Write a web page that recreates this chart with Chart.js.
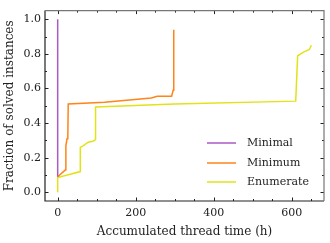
<!DOCTYPE html>
<html>
<head>
<meta charset="utf-8">
<script src="https://cdn.jsdelivr.net/npm/chart.js@4/dist/chart.umd.min.js"></script>
<style>
  html, body { margin: 0; padding: 0; background: #fff; }
  #wrap { width: 330px; height: 243px; }
</style>
</head>
<body>
<div id="wrap"><canvas id="chart" width="330" height="243"></canvas></div>
<script>
// series: accumulated thread time (h) vs fraction of solved instances
const minimalTime = [0, 0];
const minimalFrac = [0.09, 1.0];

const minimumTime = [0, 20, 21, 24, 26, 27, 120, 240, 255, 292, 296, 297, 298];
const minimumFrac = [0.09, 0.13, 0.27, 0.31, 0.32, 0.51, 0.52, 0.545, 0.555, 0.555, 0.59, 0.61, 0.94];

const enumTime = [0, 0, 58, 58, 66, 78, 90, 97, 97, 300, 610, 615, 630, 645, 650];
const enumFrac = [0.0, 0.085, 0.12, 0.26, 0.27, 0.29, 0.295, 0.305, 0.493, 0.51, 0.527, 0.789, 0.81, 0.825, 0.85];

const xTickValues = [0, 200, 400, 600];
const yTickValues = [0.0, 0.2, 0.4, 0.6, 0.8, 1.0];
const xMinorValues = [50, 100, 150, 250, 300, 350, 450, 500, 550, 650];
const yMinorValues = [0.1, 0.3, 0.5, 0.7, 0.9];

const seriesNames = ['Minimal', 'Minimum', 'Enumerate'];
const seriesColors = ['#a95ac4', '#ff8419', '#e2e21a'];

const serif = "'DejaVu Serif', 'Liberation Serif', serif";

function toPoints(xs, ys) {
  return xs.map((x, i) => ({ x, y: ys[i] }));
}

// inward ticks on all four sides + legend inside the plot
const decorations = {
  id: 'decorations',
  afterDraw(chart) {
    const { ctx, chartArea: a, scales: { x, y } } = chart;
    ctx.save();
    ctx.strokeStyle = '#222';
    ctx.lineWidth = 1;
    const major = 3.5, minor = 2;
    const xt = (v, len) => {
      const px = Math.round(x.getPixelForValue(v)) + 0.5;
      ctx.beginPath();
      ctx.moveTo(px, a.bottom); ctx.lineTo(px, a.bottom - len);
      ctx.moveTo(px, a.top); ctx.lineTo(px, a.top + len);
      ctx.stroke();
    };
    const yt = (v, len) => {
      const py = Math.round(y.getPixelForValue(v)) + 0.5;
      ctx.beginPath();
      ctx.moveTo(a.left, py); ctx.lineTo(a.left + len, py);
      ctx.moveTo(a.right, py); ctx.lineTo(a.right - len, py);
      ctx.stroke();
    };
    xTickValues.forEach(v => xt(v, major));
    xMinorValues.forEach(v => xt(v, minor));
    yTickValues.forEach(v => yt(v, major));
    yMinorValues.forEach(v => yt(v, minor));

    // frame
    ctx.lineWidth = 1.2;
    ctx.strokeStyle = '#222';
    ctx.beginPath();
    ctx.moveTo(a.left, a.top); ctx.lineTo(a.left, a.bottom); ctx.lineTo(a.right, a.bottom);
    ctx.stroke();
    ctx.strokeStyle = '#777';
    ctx.beginPath();
    ctx.moveTo(a.left, a.top); ctx.lineTo(a.right, a.top); ctx.lineTo(a.right, a.bottom);
    ctx.stroke();

    // legend
    ctx.font = '11px ' + serif;
    ctx.textBaseline = 'middle';
    ctx.fillStyle = '#222';
    const lx0 = 207, lx1 = 236, tx = 247, ly = [143, 163, 182];
    seriesNames.forEach((name, i) => {
      ctx.strokeStyle = seriesColors[i];
      ctx.lineWidth = 1.5;
      ctx.beginPath();
      ctx.moveTo(lx0, ly[i]); ctx.lineTo(lx1, ly[i]);
      ctx.stroke();
      ctx.fillText(name, tx, ly[i]);
    });
    ctx.restore();
  }
};

const ctx = document.getElementById('chart').getContext('2d');
new Chart(ctx, {
  type: 'scatter',
  data: {
    datasets: [
      { label: seriesNames[0], data: toPoints(minimalTime, minimalFrac) },
      { label: seriesNames[1], data: toPoints(minimumTime, minimumFrac) },
      { label: seriesNames[2], data: toPoints(enumTime, enumFrac) }
    ].map((d, i) => ({
      ...d,
      showLine: true,
      borderColor: seriesColors[i],
      backgroundColor: seriesColors[i],
      borderWidth: 1.5,
      pointRadius: 0,
      tension: 0
    }))
  },
  options: {
    responsive: false,
    animation: false,
    layout: { padding: { top: 5, right: 6, left: 0, bottom: 0 } },
    plugins: { legend: { display: false }, tooltip: { enabled: false } },
    scales: {
      x: {
        type: 'linear',
        min: -32.5,
        max: 682.5,
        grid: { display: false, drawTicks: false },
        border: { display: false },
        afterBuildTicks: s => { s.ticks = xTickValues.map(v => ({ value: v })); },
        afterFit: s => { s.height = 42; },
        ticks: {
          color: '#222',
          padding: 6,
          maxRotation: 0,
          font: { family: serif, size: 11 },
          callback: v => String(v)
        },
        title: {
          display: true,
          text: 'Accumulated thread time (h)',
          color: '#222',
          font: { family: serif, size: 12 },
          padding: { top: 0, bottom: 4 }
        }
      },
      y: {
        type: 'linear',
        min: -0.05,
        max: 1.05,
        grid: { display: false, drawTicks: false },
        border: { display: false },
        afterBuildTicks: s => { s.ticks = yTickValues.map(v => ({ value: v })); },
        afterFit: s => { s.width = 45; },
        ticks: {
          color: '#222',
          padding: 4,
          font: { family: serif, size: 11 },
          callback: v => v.toFixed(1)
        },
        title: {
          display: true,
          text: 'Fraction of solved instances',
          color: '#222',
          font: { family: serif, size: 12 },
          padding: { top: 3, bottom: 0 }
        }
      }
    }
  },
  plugins: [decorations]
});
</script>
</body>
</html>
